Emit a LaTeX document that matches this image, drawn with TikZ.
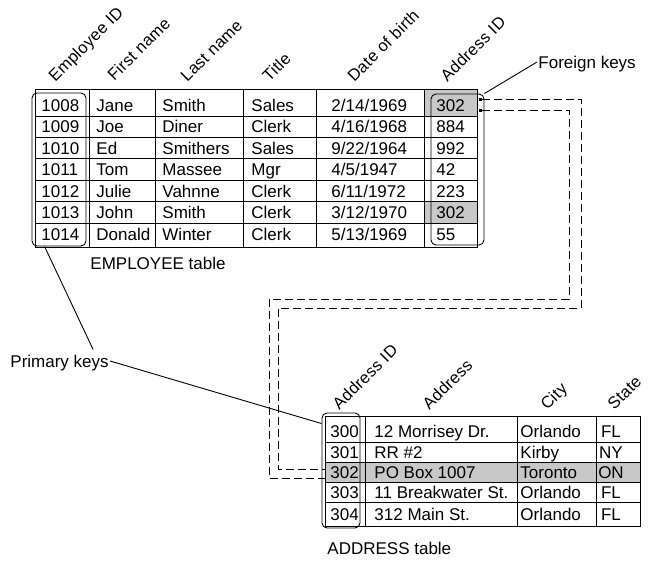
\documentclass[tikz,border=0pt]{standalone}
\usepackage{fontspec}
\setmainfont{Liberation Sans}
\usetikzlibrary{arrows.meta}
\definecolor{keygray}{RGB}{200,200,200}

\begin{document}
\begin{tikzpicture}[
    x=1pt, y=-1pt,
    line width=0.9pt,
    font=\fontsize{17}{20}\selectfont,
    cell/.style={%
      anchor=west,
      inner sep=0pt,
      text height=12pt,
      text depth=0pt,
    },
    head/.style={%
      anchor=base west,
      rotate=45,
      inner sep=0pt,
      font=\fontsize{16.5}{20}\selectfont\addfontfeature{LetterSpace=2},
    },
    note/.style={%
      anchor=west,
      inner sep=1pt,
      text height=12pt,
      text depth=0pt,
    },
    keybox/.style={%
      draw,
      rectangle,
      rounded corners=5pt,
      inner sep=0pt,
    },
    fkline/.style={%
      dash pattern=on 8pt off 4pt,
    },
  ]
    \useasboundingbox (0,0) rectangle (649,562);

    % EMPLOYEE table
    \fill [keygray] (424,89) rectangle (477,116);
    \fill [keygray] (424,201.7) rectangle (477,223.3);
    \draw (35,89) rectangle (477,247);
    \draw (35,116) -- (477,116);
    \draw (35,137.3) -- (477,137.3);
    \draw (35,158.7) -- (477,158.7);
    \draw (35,180.3) -- (477,180.3);
    \draw (35,201.7) -- (477,201.7);
    \draw (35,223.3) -- (477,223.3);
    \draw (89,89) -- (89,247);
    \draw (155,89) -- (155,247);
    \draw (243,89) -- (243,247);
    \draw (316,89) -- (316,247);
    \draw (424,89) -- (424,247);

    \node [head] (hEmpId) at (55,83) {Employee ID};
    \node [head] (hFirst) at (114,82) {First name};
    \node [head] (hLast) at (187,83) {Last name};
    \node [head] (hTitle) at (269,83) {Title};
    \node [head] (hBirth) at (354,83) {Date of birth};
    \node [head] (hEAddr) at (447,83) {Address ID};

    \node [cell] (e1id) at (41,105) {1008};
    \node [cell] (e1fn) at (96,105) {Jane};
    \node [cell] (e1ln) at (162,105) {Smith};
    \node [cell] (e1ti) at (251,105) {Sales};
    \node [cell] (e1db) at (331,105) {2/14/1969};
    \node [cell] (e1ad) at (436,105) {302};

    \node [cell] (e2id) at (41,126.5) {1009};
    \node [cell] (e2fn) at (96,126.5) {Joe};
    \node [cell] (e2ln) at (162,126.5) {Diner};
    \node [cell] (e2ti) at (251,126.5) {Clerk};
    \node [cell] (e2db) at (331,126.5) {4/16/1968};
    \node [cell] (e2ad) at (436,126.5) {884};

    \node [cell] (e3id) at (41,148) {1010};
    \node [cell] (e3fn) at (96,148) {Ed};
    \node [cell] (e3ln) at (162,148) {Smithers};
    \node [cell] (e3ti) at (251,148) {Sales};
    \node [cell] (e3db) at (331,148) {9/22/1964};
    \node [cell] (e3ad) at (436,148) {992};

    \node [cell] (e4id) at (41,169.5) {1011};
    \node [cell] (e4fn) at (96,169.5) {Tom};
    \node [cell] (e4ln) at (162,169.5) {Massee};
    \node [cell] (e4ti) at (251,169.5) {Mgr};
    \node [cell] (e4db) at (331,169.5) {4/5/1947};
    \node [cell] (e4ad) at (436,169.5) {42};

    \node [cell] (e5id) at (41,191) {1012};
    \node [cell] (e5fn) at (96,191) {Julie};
    \node [cell] (e5ln) at (162,191) {Vahnne};
    \node [cell] (e5ti) at (251,191) {Clerk};
    \node [cell] (e5db) at (331,191) {6/11/1972};
    \node [cell] (e5ad) at (436,191) {223};

    \node [cell] (e6id) at (41,212.5) {1013};
    \node [cell] (e6fn) at (96,212.5) {John};
    \node [cell] (e6ln) at (162,212.5) {Smith};
    \node [cell] (e6ti) at (251,212.5) {Clerk};
    \node [cell] (e6db) at (331,212.5) {3/12/1970};
    \node [cell] (e6ad) at (436,212.5) {302};

    \node [cell] (e7id) at (41,234) {1014};
    \node [cell] (e7fn) at (96,234) {Donald};
    \node [cell] (e7ln) at (162,234) {Winter};
    \node [cell] (e7ti) at (251,234) {Clerk};
    \node [cell] (e7db) at (331,234) {5/13/1969};
    \node [cell] (e7ad) at (436,234) {55};

    \node [keybox, minimum width=54pt, minimum height=153pt] (pkE) at (59,169.5) {};
    \node [keybox, minimum width=53pt, minimum height=151pt] (fkE) at (457.5,169.5) {};
    \node [note] (empTable) at (89,263) {EMPLOYEE table};

    % ADDRESS table
    \fill [keygray] (325,462) rectangle (640,482);
    \draw (325,416) rectangle (640,526);
    \draw (325,442) -- (640,442);
    \draw (325,462) -- (640,462);
    \draw (325,482) -- (640,482);
    \draw (325,502.5) -- (640,502.5);
    \draw (365,416) -- (365,526);
    \draw (517,416) -- (517,526);
    \draw (596,416) -- (596,526);

    \node [head] (hAAddr) at (339,411) {Address ID};
    \node [head] (hStreet) at (429,411) {Address};
    \node [head] (hCity) at (547,411) {City};
    \node [head] (hState) at (614,411) {State};

    \node [cell] (a1id) at (330,431) {300};
    \node [cell] (a1st) at (374,431) {12 Morrisey Dr.};
    \node [cell] (a1ci) at (520,431) {Orlando};
    \node [cell, anchor=center] (a1sa) at (611,431) {FL};

    \node [cell] (a2id) at (330,452) {301};
    \node [cell] (a2st) at (374,452) {RR \#2};
    \node [cell] (a2ci) at (520,452) {Kirby};
    \node [cell, anchor=center] (a2sa) at (611,452) {NY};

    \node [cell] (a3id) at (330,472) {302};
    \node [cell] (a3st) at (374,472) {PO Box 1007};
    \node [cell] (a3ci) at (520,472) {Toronto};
    \node [cell, anchor=center] (a3sa) at (611,472) {ON};

    \node [cell] (a4id) at (330,492) {303};
    \node [cell] (a4st) at (374,492) {11 Breakwater St.};
    \node [cell] (a4ci) at (520,492) {Orlando};
    \node [cell, anchor=center] (a4sa) at (611,492) {FL};

    \node [cell] (a5id) at (330,514) {304};
    \node [cell] (a5st) at (374,514) {312 Main St.};
    \node [cell] (a5ci) at (520,514) {Orlando};
    \node [cell, anchor=center] (a5sa) at (611,514) {FL};

    \node [keybox, minimum width=38pt, minimum height=115pt] (pkA) at (341,470.5) {};
    \node [note] (addrTable) at (326,548) {ADDRESS table};

    % keys
    \node [note] (fkNote) at (537,62) {Foreign keys};
    \node [note] (pkNote) at (9,361) {Primary keys};

    \draw (fkNote.west) -- (fkE.north east);
    \draw (pkNote.east) -- ([yshift=-11pt]pkA.north west);
    \draw ([xshift=-17pt,yshift=4pt]pkNote.north east) -- ([xshift=13pt]pkE.south west);

    \coordinate (fkTop) at (479,99);
    \coordinate (fkBot) at (479,110);
    \coordinate (pkTop) at (325,469);
    \coordinate (pkBot) at (325,478);
    \draw [fkline, {Square[length=3pt,width=3pt]}-] (fkTop) -| (581,308) -| (278,469) -- (pkTop);
    \draw [fkline, {Square[length=3pt,width=3pt]}-] (fkBot) -| (569,299) -| (269,478) -- (pkBot);
\end{tikzpicture}
\end{document}
